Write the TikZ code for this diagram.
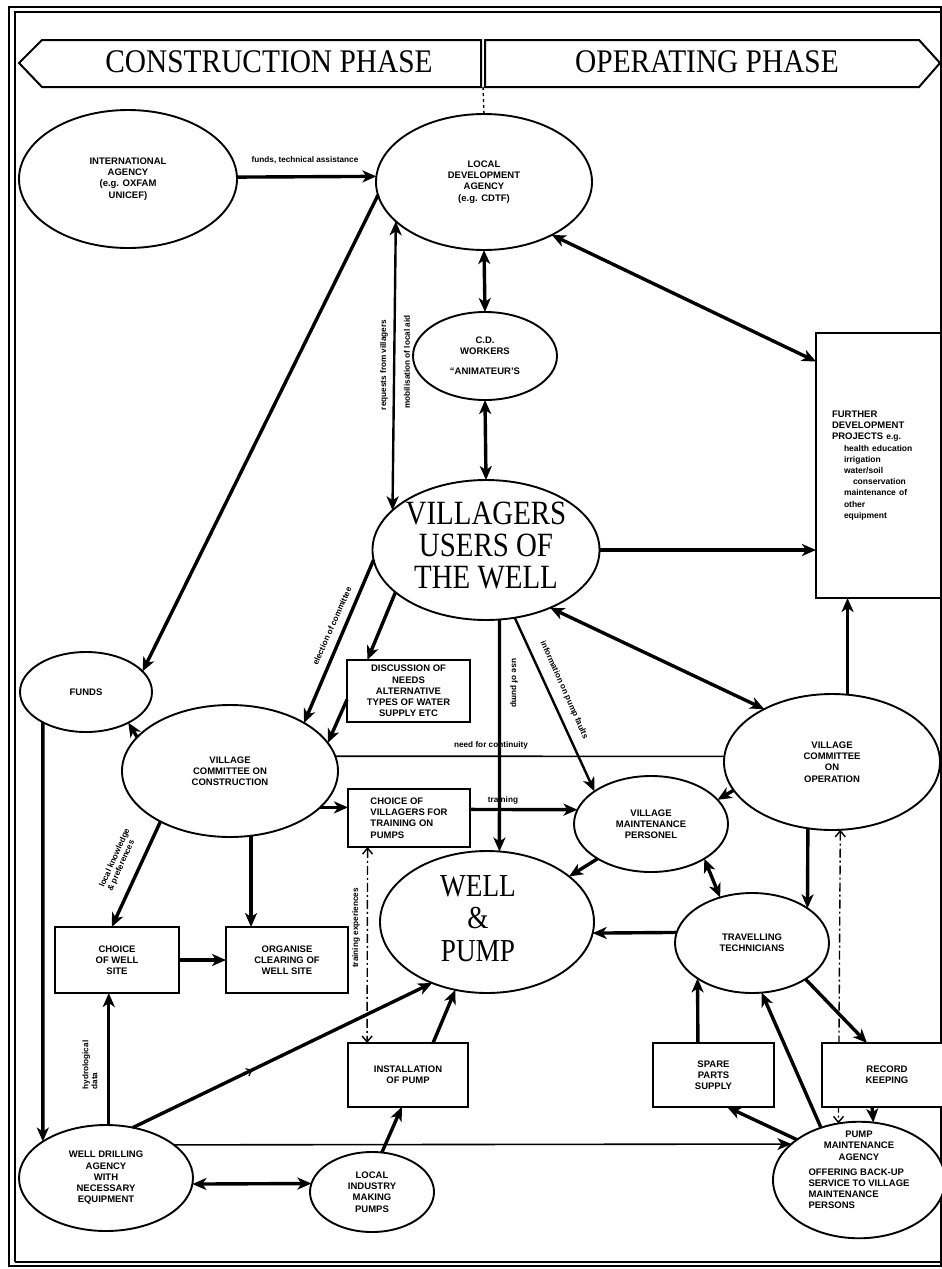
\documentclass[tikz,border=0pt]{standalone}
\usepackage{fontspec}
\usepackage{graphicx}
\usetikzlibrary{shapes.geometric,arrows.meta,backgrounds,decorations.markings}
\newfontfamily\labfont{Liberation Sans}
\newfontfamily\serfont{Liberation Serif}
\newcommand\fdsmall{\fontsize{8.5}{11.1}\selectfont}
\begin{document}
\begin{tikzpicture}[x=1pt,y=-1pt,
  >={Stealth[length=14pt,width=12pt,inset=4pt]},
  ell/.style={draw, ellipse, line width=1.9pt, inner sep=0pt, outer sep=0pt, fill=white, align=center,
    font=\labfont\bfseries\fontsize{9.5}{11.2}\selectfont},
  bx/.style={draw, rectangle, line width=2.2pt, inner sep=0pt, outer sep=0pt, fill=white, align=center,
    font=\labfont\bfseries\fontsize{9.5}{11.2}\selectfont},
  thk/.style={line width=3.4pt},
  med/.style={line width=2.4pt},
  thn/.style={line width=1.6pt},
  lbl/.style={font=\labfont\bfseries\fontsize{8.2}{9}\selectfont, inner sep=0.5pt},
  dd/.style={line width=1.4pt, dash pattern=on 9pt off 3pt on 2pt off 3pt,
    arrows={Straight Barb[length=6pt,width=10pt]-Straight Barb[length=6pt,width=10pt]}},
  bigtxt/.style={font=\serfont\fontsize{33}{36}\selectfont, inner sep=0pt},
  midarrow/.style={postaction={decorate,decoration={markings,mark=at position 0.4 with {\arrow{Straight Barb[length=5pt,width=8pt,line width=1.2pt]}}}}}
]
\useasboundingbox (0,0) rectangle (942,1269);
\begin{pgfonlayer}{background}
\fill[white] (0,0) rectangle (942,1269);
\end{pgfonlayer}
\clip (0,0) rectangle (942,1269);

% frame
\draw[line width=1.4pt] (9,1266) -- (9,7) -- (941,7) -- (941,1266) -- cycle;
\draw[line width=1.2pt] (15,1262) -- (15,12) -- (941,12);
\draw[line width=1.2pt] (15,1262) -- (941,1262);

% banners
\draw[line width=2pt] (42,40) -- (481,40) -- (481,87) -- (42,87) -- (19,63) -- cycle;
\draw[line width=2pt] (485,40) -- (919,40) -- (940,63) -- (919,87) -- (485,87) -- cycle;
\node[bigtxt] (cons) at (269,62) {\scalebox{.89}[1]{CONSTRUCTION PHASE}};
\node[bigtxt] (oper) at (707,62) {\scalebox{.89}[1]{OPERATING PHASE}};
\coordinate (div) at (483,87);

% ellipses
\node[ell, minimum width=218pt, minimum height=138pt] (intl) at (128,179) {INTERNATIONAL\\AGENCY\\(e.g. OXFAM\\UNICEF)};
\node[ell, minimum width=216pt, minimum height=136pt] (lda) at (484,182) {LOCAL\\DEVELOPMENT\\AGENCY\\(e.g. CDTF)};
\node[ell, minimum width=144pt, minimum height=88pt] (cdw) at (485,356) {C.D.\\WORKERS\\[9pt]“ANIMATEUR’S};
\node[ell, minimum width=216pt, minimum height=140pt, font=\serfont\fontsize{34}{31}\selectfont] (vuw) at (486,550)
  {\scalebox{.85}[1]{\begin{tabular}{@{}c@{}}VILLAGERS\\USERS OF\\THE WELL\end{tabular}}};
\node[ell, minimum width=132pt, minimum height=80pt] (funds) at (86,692) {FUNDS};
\node[ell, minimum width=216pt, minimum height=132pt] (vcc) at (230,771) {VILLAGE\\COMMITTEE ON\\CONSTRUCTION};
\node[ell, minimum width=154pt, minimum height=96pt] (vmp) at (651,824) {VILLAGE\\MAINTENANCE\\PERSONEL};
\node[ell, minimum width=216pt, minimum height=136pt] (vco) at (832,762) {VILLAGE\\COMMITTEE\\ON\\OPERATION};
\node[ell, minimum width=214pt, minimum height=142pt, font=\serfont\fontsize{32}{32.5}\selectfont] (wp) at (487,922)
  {\hspace*{-18pt}\scalebox{.85}[1]{\begin{tabular}{@{}c@{}}WELL\\\&\\PUMP\end{tabular}}};
\node[ell, minimum width=154pt, minimum height=100pt] (tt) at (752,943) {TRAVELLING\\TECHNICIANS};
\node[ell, minimum width=174pt, minimum height=106pt] (wda) at (106,1178) {WELL DRILLING\\AGENCY\\WITH\\NECESSARY\\EQUIPMENT};
\node[ell, minimum width=124pt, minimum height=80pt] (li) at (372,1192) {LOCAL\\INDUSTRY\\MAKING\\PUMPS};
\node[ell, minimum width=172pt, minimum height=106pt] (pma) at (859,1180)
  {\raisebox{9pt}[\height][\depth]{\begin{tabular}{@{}c@{}}PUMP\\MAINTENANCE\\AGENCY\\[4pt]\begin{tabular}[t]{@{}l@{}}OFFERING BACK-UP\\SERVICE TO VILLAGE\\MAINTENANCE\\PERSONS\end{tabular}\end{tabular}}};

% boxes
\node[bx, minimum width=125pt, minimum height=265pt, text width=93pt, inner xsep=16pt, align=left] (fd) at (878.5,465.5)
  {FURTHER\\DEVELOPMENT\\PROJECTS {\fdsmall e.g.}\\
   {\fdsmall\hspace*{12pt}health education}\\
   {\fdsmall\hspace*{12pt}irrigation}\\
   {\fdsmall\hspace*{12pt}water/soil}\\
   {\fdsmall\hspace*{21pt}conservation}\\
   {\fdsmall\hspace*{12pt}maintenance of}\\
   {\fdsmall\hspace*{12pt}other}\\
   {\fdsmall\hspace*{12pt}equipment}};
\node[bx, minimum width=123pt, minimum height=62pt] (disc) at (408.5,691) {DISCUSSION OF\\NEEDS\\ALTERNATIVE\\TYPES OF WATER\\SUPPLY ETC};
\node[bx, minimum width=122pt, minimum height=58pt, align=left] (cvt) at (409,818) {CHOICE OF\\VILLAGERS FOR\\TRAINING ON\\PUMPS};
\node[bx, minimum width=124pt, minimum height=66pt] (cws) at (117,960) {CHOICE\\OF WELL\\SITE};
\node[bx, minimum width=122pt, minimum height=66pt] (org) at (287,960) {ORGANISE\\CLEARING OF\\WELL SITE};
\node[bx, minimum width=120pt, minimum height=64pt] (inst) at (408,1075) {INSTALLATION\\OF PUMP};
\node[bx, minimum width=121pt, minimum height=64pt] (spare) at (713.5,1075) {SPARE\\PARTS\\SUPPLY};
\node[bx, minimum width=130pt, minimum height=64pt] (rk) at (887,1075) {RECORD\\KEEPING};

% dash-dot connector hidden behind the record keeping box
\begin{pgfonlayer}{background}
\draw[dd] (vco.-83) -- (pma.110);
\end{pgfonlayer}

% connectors
\draw[dashed, line width=1.4pt] (div) -- (lda.north);
\draw[thk,->] (intl.1) -- (lda.177);
\draw[thk,->] (lda.187) -- (funds.20);
\draw[thk,<->] (lda.south) -- (cdw.north);
\draw[thk,<->] (cdw.south) -- (vuw.north);
\draw[med,<->] (lda.204) -- (vuw.157);
\draw[thk,<->] (lda.-38) -- (fd.121);
\draw[thk,->] (vuw.east) -- (vuw.east -| fd.west);
\draw[thk,->] (vco.77) -- (vco.77 |- fd.south);
\draw[thk,->] (vuw.185) -- (vcc.33);
\draw[thk,->] (vuw.205) -- (disc.143);
\draw[thk,->] (disc.188) -- (vcc.16);
\draw[thk,->] (vcc.160) -- (funds.-36);
\draw[thn] (vcc.8) -- (vco.177);
\draw[thk,->] (vcc.-22) -- (vcc.-22 -| cvt.west);
\draw[thk,->] (vcc.-144) -- (cws.99);
\draw[thk,->] (vcc.-72) -- (vcc.-72 |- org.north);
\draw[thk,->] (cws.east) -- (org.west);
\draw[thk,->] (wda.87) -- (wda.87 |- cws.south);
\draw[thk,->] (funds.-145) -- (wda.150);
\draw[thk,->,midarrow] (wda.62) -- (wp.-132);
\draw[thk,<->] (wda.-4) -- (li.172);
\draw[thk,->] (li.76) -- (inst.-101);
\draw[thk,->] (inst.52) -- (wp.-115);
\draw[dd] (cvt.-145) -- (inst.142);
\draw[thk,->] (cvt.8) -- (vmp.169);
\draw[thk,->] (vuw.-79) -- (wp.80);
\draw[med,->] (vuw.-67) -- (vmp.150);
\draw[thk,<->] (vuw.-42) -- (vco.142);
\draw[thk,->] (vco.196) -- (vmp.20);
\draw[thk,->] (vmp.-147) -- (wp.29);
\draw[thk,<->] (vmp.-33) -- (tt.125);
\draw[thk,->] (vco.-110) -- (tt.32);
\draw[thk,->] (tt.172) -- (wp.-6);
\draw[thk,->] (spare.116) -- (tt.-147);
\draw[thk,->] (pma.126) -- (tt.-79);
\draw[thk,->] (pma.147) -- (spare.-67);
\draw[thk,->] (tt.-34) -- (rk.122);
\draw[thk,->] (rk.-115) -- (pma.76);
\draw[thn,->] (wda.26) -- (pma.152);

% connector labels
\node[lbl] (l1) at (305,160) {funds, technical assistance};
\node[lbl, rotate=90] (l2) at (384,365) {requests from villagers};
\node[lbl, rotate=90] (l3) at (407,362) {mobilisation of local aid};
\node[lbl, rotate=66] (l4) at (332,626) {election of committee};
\node[lbl, rotate=-90] (l5) at (514,683) {use of pump};
\node[lbl, rotate=-66] (l6) at (564,690) {information on pump faults};
\node[lbl] (l7) at (491,745) {need for continuity};
\node[lbl] (l8) at (503,800) {training};
\node[lbl, rotate=66, align=left] (l9) at (119,860) {local knowledge\\\& preferences};
\node[lbl, rotate=90] (l10) at (356,928) {training experiences};
\node[lbl, rotate=90, align=left] (l11) at (90,1065) {hydrological\\data};
\end{tikzpicture}
\end{document}
